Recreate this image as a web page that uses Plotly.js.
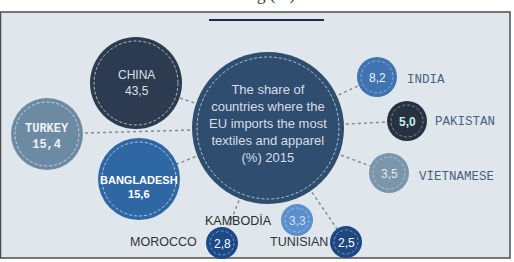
<!DOCTYPE html>
<html>
<head>
<meta charset="utf-8">
<script src="https://cdn.plot.ly/plotly-3.0.1.min.js"></script>
<style>html,body{margin:0;padding:0;background:#fff;}#chart{width:514px;height:262px;}</style>
</head>
<body>
<div id="chart"></div>
<script>
// ---- data ----
const countries = ['CHINA','TURKEY','BANGLADESH','INDIA','PAKISTAN','VİETNAMESE','KAMBODİA','MOROCCO','TUNISIAN'];
const shares = [43.5, 15.4, 15.6, 8.2, 5.0, 3.5, 3.3, 2.8, 2.5];
const centerTitle = 'The share of<br>countries where the<br>EU imports the most<br>textiles and apparel<br>(%) 2015';
const topTitle = 'and clothing (%) 2015';

// ---- layout (pixel positions / sizes / styles) ----
const posX = [136, 47, 139, 377, 407, 389, 297, 222, 346];
const posY = [83, 134, 179, 77, 121, 173, 220, 243, 242];
const radius = [46, 36, 41, 20, 20, 20, 16, 16, 16];
const colors = ['#2c3b50','#6d8aa3','#2f67a5','#3f74b0','#263240','#7b95ab','#5b8fce','#1d4987','#1e4782'];
const center = {x: 268, y: 128, r: 76, color: '#2f4d6e'};
// connector targets (index into countries) ; KAMBODİA touches center directly
const connected = [0,1,2,3,4,5,7,8];

const fmt = v => v.toFixed(1).replace('.', ',');

const traces = [];
// connectors
const lx = [], ly = [];
connected.forEach(i => { lx.push(center.x, posX[i], null); ly.push(center.y, posY[i], null); });
traces.push({x: lx, y: ly, mode: 'lines', line: {color: '#7f8d9a', width: 1.5, dash: 'dot'}, hoverinfo: 'skip', showlegend: false});
// center bubble
traces.push({x: [center.x], y: [center.y], mode: 'markers', marker: {size: center.r*2, color: center.color, line: {width: 0}}, hoverinfo: 'skip', showlegend: false});
// country bubbles
traces.push({x: posX, y: posY, mode: 'markers', text: countries, customdata: shares,
  marker: {size: radius.map(r => r*2), color: colors, line: {width: 0}, opacity: 1},
  hovertemplate: '%{text}: %{customdata}<extra></extra>', showlegend: false});

// panel, title rule, dashed stitching
const shapes = [{type: 'rect', xref: 'x', yref: 'y', x0: 0.5, x1: 510, y0: 12, y1: 258,
  fillcolor: '#dfe7ed', line: {color: '#4d4d4d', width: 1.5}, layer: 'below'},
  {type: 'line', xref: 'x', yref: 'y', x0: 209, x1: 324, y0: 20, y1: 20, line: {color: '#1f2e45', width: 2.2}}];
const stitch = (x, y, r, a) => ({type: 'circle', xref: 'x', yref: 'y', x0: x - r, x1: x + r, y0: y - r, y1: y + r,
  line: {color: 'rgba(235,240,245,' + a + ')', width: 1, dash: '3px,2px'}, fillcolor: 'rgba(0,0,0,0)'});
shapes.push(stitch(center.x, center.y, center.r - 5, 0.7));
posX.forEach((x, i) => shapes.push(stitch(x, posY[i], radius[i] - 4, radius[i] > 30 ? 0.7 : 0.45)));

const sans = 'Liberation Sans, Arial, sans-serif';
const mono = 'Liberation Mono, Courier New, monospace';
const ann = (x, y, text, font, extra) => Object.assign({x, y, xref: 'x', yref: 'y', text, showarrow: false, font,
  xanchor: 'center', yanchor: 'middle'}, extra || {});

const annotations = [
  ann(257, 6.5, topTitle, {family: 'Liberation Serif, Times New Roman, serif', size: 17, color: '#333'}, {yanchor: 'bottom'}),
  ann(center.x, 123, centerTitle, {family: sans, size: 13, color: '#d6dee6'}),
  ann(posX[0], 83, countries[0] + '<br>' + fmt(shares[0]), {family: sans, size: 12, color: '#d9e0e8'}),
  ann(posX[1], 137, '<b>' + countries[1] + '<br>' + fmt(shares[1]) + '</b>', {family: mono, size: 12, color: '#eef2f5'}),
  ann(posX[2], 187, '<b>' + countries[2] + '<br>' + fmt(shares[2]) + '</b>', {family: sans, size: 11, color: '#ffffff'}),
  ann(posX[3], posY[3] + 1, fmt(shares[3]), {family: sans, size: 12, color: '#f2f6fa'}),
  ann(posX[4], posY[4] + 1, '<b>' + fmt(shares[4]) + '</b>', {family: sans, size: 12, color: '#c4edf2'}),
  ann(posX[5], posY[5] + 1, fmt(shares[5]), {family: sans, size: 12, color: '#e3e9ee'}),
  ann(posX[6], posY[6] + 1, fmt(shares[6]), {family: sans, size: 12, color: '#cfe0f2'}),
  ann(posX[7], posY[7] + 1, fmt(shares[7]), {family: sans, size: 12, color: '#ffffff'}),
  ann(posX[8], posY[8] + 1, fmt(shares[8]), {family: sans, size: 12, color: '#ffffff'}),
  ann(405, 80, countries[3], {family: mono, size: 12.5, color: '#48627e'}, {xanchor: 'left'}),
  ann(433, 122, countries[4], {family: mono, size: 12.5, color: '#48627e'}, {xanchor: 'left'}),
  ann(417, 176, countries[5], {family: mono, size: 12.5, color: '#48627e'}, {xanchor: 'left'}),
  ann(274, 221, countries[6], {family: sans, size: 12.5, color: '#2b2b2b'}, {xanchor: 'right'}),
  ann(199, 242, countries[7], {family: sans, size: 12.5, color: '#333333'}, {xanchor: 'right'}),
  ann(330, 242, countries[8], {family: sans, size: 12.5, color: '#333333'}, {xanchor: 'right'})
];

const layout = {
  width: 514, height: 262, margin: {l: 0, r: 0, t: 0, b: 0},
  paper_bgcolor: '#ffffff', plot_bgcolor: 'rgba(0,0,0,0)',
  xaxis: {range: [0, 514], visible: false, fixedrange: true},
  yaxis: {range: [262, 0], visible: false, fixedrange: true},
  shapes, annotations, showlegend: false
};
Plotly.newPlot('chart', traces, layout, {displayModeBar: false, staticPlot: true});
</script>
</body>
</html>
